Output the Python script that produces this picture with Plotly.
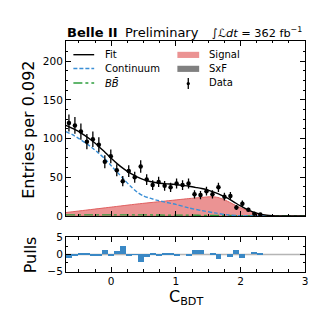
import numpy as np
import plotly.graph_objects as go

W = H = 316

# ---------------- data ----------------
bin_lo, bin_hi, n_bins = -0.7, 3.0, 40
counts = [120, 117, 109, 96, 99, 92, 70, 77, 59, 45, 58, 50, 64, 47, 40, 44, 39,
          37, 42, 40, 42, 28, 27, 32, 28, 37, 25, 26, 11, 16, 8, 3, 2]
pulls = [-1.0, -0.5, 0.1, 0.5, -0.3, -0.5, 1.3, -0.4, 1.0, 2.4, -0.3, -0.1, -2.2,
         -0.8, 0.2, -0.3, 0.4, 0.3, -0.4, 0.0, -0.5, 1.3, 1.3, 0.0, 0.3, -1.3, 0.0,
         -0.7, 1.4, -1.0, 0.0, 0.8, 0.4]

fit_x = [-0.7, -0.6, -0.5, -0.4, -0.3, -0.2, -0.1, 0.0, 0.1, 0.2, 0.3, 0.4, 0.5, 0.6,
         0.7, 0.8, 0.9, 1.0, 1.1, 1.2, 1.3, 1.4, 1.5, 1.6, 1.7, 1.8, 1.9, 2.0, 2.1,
         2.2, 2.3, 2.4, 2.5, 2.6, 2.8, 3.0]
fit_y = [117, 113, 109, 103.5, 97.5, 90.5, 82.5, 74.5, 67, 60.5, 55, 50.5, 47, 44.5,
         43, 42, 41.3, 40.5, 39.5, 38.5, 37, 35.5, 33.5, 30.5, 27, 23, 18, 13, 8.5,
         5, 2.5, 1.1, 0.4, 0.1, 0, 0]

cont_x = [-0.7, -0.6, -0.5, -0.4, -0.3, -0.2, -0.1, 0.0, 0.1, 0.2, 0.3, 0.4, 0.5, 0.6,
          0.7, 0.8, 1.0, 1.2, 1.4, 1.6, 1.8, 2.0, 2.2, 2.4]
cont_y = [109, 105, 100, 94.5, 88.5, 81.5, 74, 65, 56, 47, 38.5, 31, 26, 23,
          20.5, 18.6, 15, 10.5, 7, 4, 1.5, 0.4, 0.1, 0]

sig_x = [-0.7, -0.4, 0.0, 0.4, 0.8, 1.2, 1.4, 1.55, 1.65, 1.75, 1.85, 1.95, 2.05,
         2.15, 2.25, 2.35, 2.45, 2.6, 3.0]
sig_y = [4.5, 7.5, 11.5, 15.5, 19, 22.5, 24, 25, 24, 21, 17, 12.5, 9, 6, 3.5, 1.5,
         0.5, 0.1, 0]

bb_x = [-0.7, 0.0, 1.0, 2.0, 2.5, 3.0]
bb_y = [1.5, 1.5, 1.2, 0.5, 0.1, 0]

sxf_x = [-0.7, 0.5, 1.5, 2.2, 2.6, 3.0]
sxf_y = [0.6, 0.6, 0.6, 0.3, 0.05, 0]

# ---------------- helpers ----------------
edges = np.linspace(bin_lo, bin_hi, n_bins + 1)
bw = edges[1] - edges[0]
centers = (edges[:-1] + edges[1:]) / 2
cen = centers[:len(counts)]
errs = np.sqrt(np.array(counts, dtype=float))


def fx(px):
    return px / W


def fy(py):
    return (H - py) / H


FONT = "DejaVu Sans"
C_FIT = "black"
C_CONT = "#3a8fd6"
C_SIG_FILL = "rgba(232,128,128,0.85)"
C_SIG_LINE = "#e06060"
C_BB = "#2e9e3e"
C_SXF = "#808080"
C_PULL = "#3a88c5"

fig = go.Figure()

fig.add_trace(go.Scatter(x=sxf_x, y=sxf_y, mode="lines", fill="tozeroy",
                         line=dict(color=C_SXF, width=0.5, shape="spline"),
                         fillcolor=C_SXF, showlegend=False, xaxis="x", yaxis="y"))
fig.add_trace(go.Scatter(x=sig_x, y=sig_y, mode="lines", fill="tozeroy",
                         line=dict(color=C_SIG_LINE, width=1, shape="spline", smoothing=0.6),
                         fillcolor=C_SIG_FILL, showlegend=False, xaxis="x", yaxis="y"))
fig.add_trace(go.Scatter(x=bb_x, y=bb_y, mode="lines",
                         line=dict(color=C_BB, width=1.3, dash="dashdot", shape="spline"),
                         showlegend=False, xaxis="x", yaxis="y"))
fig.add_trace(go.Scatter(x=cont_x, y=cont_y, mode="lines",
                         line=dict(color=C_CONT, width=1.4, dash="4px,2px", shape="spline", smoothing=0.8),
                         showlegend=False, xaxis="x", yaxis="y"))
fig.add_trace(go.Scatter(x=fit_x, y=fit_y, mode="lines",
                         line=dict(color=C_FIT, width=1.4, shape="spline", smoothing=0.8),
                         showlegend=False, xaxis="x", yaxis="y"))
fig.add_trace(go.Scatter(x=cen, y=counts, mode="markers",
                         marker=dict(color="black", size=4.5),
                         error_y=dict(type="data", array=errs, thickness=1.3, width=0, color="black"),
                         showlegend=False, xaxis="x", yaxis="y"))

fig.add_trace(go.Bar(x=cen, y=pulls, width=bw, marker=dict(color=C_PULL, line=dict(width=0)),
                     showlegend=False, xaxis="x2", yaxis="y2"))

axis_common = dict(showgrid=False, zeroline=False, showline=True, linecolor="black",
                   linewidth=1, ticks="inside", mirror="allticks", tickcolor="black",
                   tickwidth=1, ticklen=5,
                   tickfont=dict(family=FONT, size=10.5, color="black"))

xdom = [fx(58.5), fx(300)]
fig.update_layout(
    width=W, height=H, margin=dict(l=0, r=0, t=0, b=0),
    paper_bgcolor="white", plot_bgcolor="white",
    font=dict(family=FONT, color="black"),
    xaxis=dict(domain=xdom, range=[bin_lo, bin_hi], anchor="y", tick0=0, dtick=1,
               showticklabels=False,
               minor=dict(dtick=0.25, tick0=0, ticks="inside", ticklen=2.5, tickcolor="black"),
               **axis_common),
    yaxis=dict(domain=[fy(210), fy(28)], range=[0, 226], anchor="x", tick0=0, dtick=50,
               minor=dict(dtick=12.5, tick0=0, ticks="inside", ticklen=2.5, tickcolor="black"),
               **axis_common),
    xaxis2=dict(domain=xdom, range=[bin_lo, bin_hi], anchor="y2", tick0=0, dtick=1,
                minor=dict(dtick=0.25, tick0=0, ticks="inside", ticklen=2.5, tickcolor="black"),
                **axis_common),
    yaxis2=dict(domain=[fy(268), fy(232)], range=[-5.15, 5.15], anchor="x2",
                tickvals=[-5, 0, 5], ticktext=["\u22125", "0", "5"],
                minor=dict(tickvals=[-2.5, 2.5], ticks="inside", ticklen=2.5, tickcolor="black"),
                **axis_common),
    bargap=0,
)

shapes = []
# zero line in pulls
shapes.append(dict(type="line", xref="x2", yref="y2", x0=bin_lo, x1=bin_hi, y0=0, y1=0,
                   line=dict(color="#b5b5b5", width=1.3), layer="below"))

# ---- manual legend ----
shapes.append(dict(type="line", xref="paper", yref="paper", x0=fx(66), x1=fx(87),
                   y0=fy(42.3), y1=fy(42.3), line=dict(color=C_FIT, width=1.4)))
shapes.append(dict(type="line", xref="paper", yref="paper", x0=fx(66), x1=fx(87),
                   y0=fy(56.7), y1=fy(56.7), line=dict(color=C_CONT, width=1.4, dash="4px,2px")))
shapes.append(dict(type="line", xref="paper", yref="paper", x0=fx(66), x1=fx(87),
                   y0=fy(71.7), y1=fy(71.7), line=dict(color=C_BB, width=1.3, dash="dashdot")))
shapes.append(dict(type="rect", xref="paper", yref="paper", x0=fx(171), x1=fx(193),
                   y0=fy(45.7), y1=fy(39.3), fillcolor=C_SIG_FILL, line=dict(width=0)))
shapes.append(dict(type="rect", xref="paper", yref="paper", x0=fx(171), x1=fx(193),
                   y0=fy(60.2), y1=fy(53.8), fillcolor=C_SXF, line=dict(width=0)))
shapes.append(dict(type="line", xref="paper", yref="paper", x0=fx(182), x1=fx(182),
                   y0=fy(78), y1=fy(66.5), line=dict(color="black", width=1.3)))
shapes.append(dict(type="circle", xref="paper", yref="paper", x0=fx(180.3), x1=fx(183.7),
                   y0=fy(74), y1=fy(70.6), fillcolor="black", line=dict(width=0)))

annotations = []


def txt(text, x, y, size, xanchor="left", angle=0, yanchor="middle"):
    annotations.append(dict(text=text, xref="paper", yref="paper", x=fx(x), y=fy(y),
                            xanchor=xanchor, yanchor=yanchor, showarrow=False,
                            textangle=angle, font=dict(family=FONT, size=size, color="black")))


leg_size = 10
txt("Fit", 95.5, 42.3, leg_size)
txt("Continuum", 95.5, 56.7, leg_size)
txt("<i>BB\u0304</i>", 95.5, 71.7, leg_size)
txt("Signal", 200.5, 42.3, leg_size)
txt("SxF", 200.5, 56.7, leg_size)
txt("Data", 200.5, 71.7, leg_size)

txt("<b>Belle II</b>", 57.5, 19.5, 13)
txt("Preliminary", 116.5, 19.5, 13)
txt("\u222b<i>\u2112dt</i> = 362 fb<sup>\u22121</sup>", 299, 19.5, 11.3, xanchor="right")

txt("Entries per 0.092", 20.5, 120, 16, xanchor="center", angle=-90)
txt("Pulls", 23, 250, 16, xanchor="center", angle=-90)
txt("C<sub>BDT</sub>", 180, 295, 16, xanchor="center")

fig.update_layout(shapes=shapes, annotations=annotations)

fig.write_html("out.html")
